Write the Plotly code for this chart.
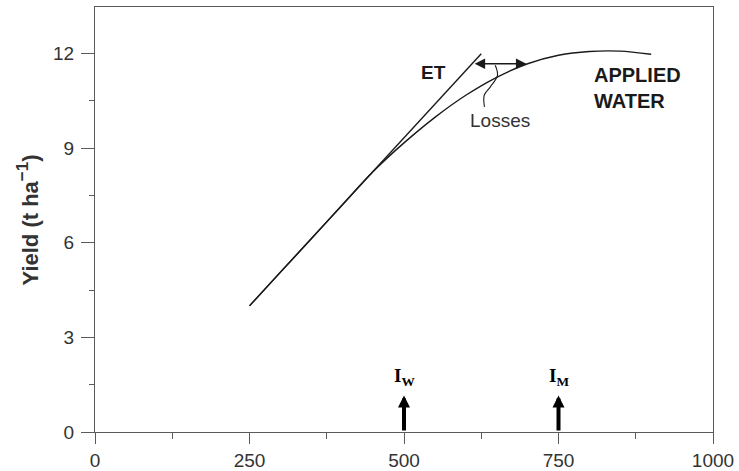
import plotly.graph_objects as go

# ---- data ----
et_x = [250, 625]
et_y = [4.0, 12.0]

applied_x = [250, 300, 350, 400, 450, 500, 550, 600, 650, 700, 750, 800, 850, 900]
applied_y = [4.0, 5.07, 6.13, 7.2, 8.26, 9.17, 9.98, 10.68, 11.25, 11.68, 11.95, 12.07, 12.08, 11.98]

losses_x = [612, 698]          # double arrow between ET and applied water
losses_level = 11.68
leader_x = [647.6, 651.3, 639.5, 629.8, 630.2]
leader_y = [11.63, 11.31, 10.94, 10.68, 10.31]

marker_x = [500, 750]          # I_W and I_M
marker_labels = ["I<sub>W</sub>", "I<sub>M</sub>"]
marker_tip = 1.16

x_ticks = [0, 250, 500, 750, 1000]
y_ticks = [0, 3, 6, 9, 12]

# ---- figure ----
LINE = "#1a1a1a"
AX = "#5a5a5a"
FONT = "Liberation Sans, Arial, sans-serif"

fig = go.Figure()
fig.add_trace(go.Scatter(x=et_x, y=et_y, mode="lines",
                         line=dict(color=LINE, width=1.4), hoverinfo="skip"))
fig.add_trace(go.Scatter(x=applied_x, y=applied_y, mode="lines",
                         line=dict(color=LINE, width=1.4, shape="spline", smoothing=0.8),
                         hoverinfo="skip"))
fig.add_trace(go.Scatter(x=leader_x, y=leader_y, mode="lines",
                         line=dict(color=LINE, width=1.1, shape="spline", smoothing=1.0),
                         hoverinfo="skip"))

annotations = []
# Losses double arrow
annotations.append(dict(x=losses_x[1], y=losses_level, ax=losses_x[0], ay=losses_level,
                        xref="x", yref="y", axref="x", ayref="y", text="",
                        showarrow=True, arrowside="end+start", arrowhead=2, startarrowhead=2,
                        arrowwidth=1.3, arrowsize=1.6, startarrowsize=1.6,
                        arrowcolor=LINE, standoff=0, startstandoff=0))
# I_W, I_M arrows and labels
for mx, lab in zip(marker_x, marker_labels):
    annotations.append(dict(x=mx, y=marker_tip, ax=mx, ay=0, xref="x", yref="y",
                            axref="x", ayref="y", text="", showarrow=True,
                            arrowhead=2, arrowwidth=4, arrowsize=0.6,
                            arrowcolor="black", standoff=0))
    annotations.append(dict(x=mx, y=1.3, xref="x", yref="y", text="<b>" + lab + "</b>",
                            showarrow=False, xanchor="center", yanchor="bottom",
                            font=dict(family="Liberation Serif, Times New Roman, serif",
                                      size=19, color="black")))
# text labels
annotations.append(dict(x=548, y=11.41, xref="x", yref="y", text="<b>ET</b>",
                        showarrow=False, font=dict(size=19, color="#1a1a1a")))
annotations.append(dict(x=805, y=10.9, xref="x", yref="y", text="<b>APPLIED<br>WATER</b>",
                        showarrow=False, xanchor="left", align="left",
                        font=dict(size=20, color="#1a1a1a")))
annotations.append(dict(x=655.6, y=9.89, xref="x", yref="y", text="Losses",
                        showarrow=False, font=dict(size=19, color="#333")))
# y-axis title
annotations.append(dict(x=-0.1085, y=0.5, xref="paper", yref="paper",
                        text="<b>Yield (t ha<sup><span style='font-size:17px'>−1</span></sup>)</b>",
                        textangle=-90,
                        showarrow=False, xanchor="center", yanchor="middle",
                        font=dict(size=22, color="#333")))

fig.update_layout(
    template="none",
    width=739, height=471,
    margin=dict(l=95, r=26, t=7, b=39, pad=0),
    plot_bgcolor="white", paper_bgcolor="white",
    showlegend=False,
    font=dict(family=FONT, size=19, color="#333"),
    annotations=annotations,
)
fig.update_xaxes(range=[0, 1000], tickmode="array", tickvals=x_ticks,
                 ticks="outside", ticklen=11, tickwidth=1.3, tickcolor=AX,
                 showline=True, linecolor=AX, linewidth=1.3, mirror=True,
                 showgrid=False, zeroline=False, automargin=False,
                 ticklabelstandoff=0,
                 tickfont=dict(size=19, color="#333"),
                 minor=dict(dtick=125, tick0=0, ticks="outside", ticklen=6,
                            tickwidth=1.3, tickcolor=AX, showgrid=False))
fig.update_yaxes(range=[0, 13.48], tickmode="array", tickvals=y_ticks,
                 ticks="outside", ticklen=13, tickwidth=1.3, tickcolor=AX,
                 showline=True, linecolor=AX, linewidth=1.3, mirror=True,
                 showgrid=False, zeroline=False, automargin=False,
                 ticklabelstandoff=3,
                 tickfont=dict(size=19, color="#333"),
                 minor=dict(dtick=1.5, tick0=0, ticks="outside", ticklen=5,
                            tickwidth=1.3, tickcolor=AX, showgrid=False))

fig.write_html("out.html", config={"displayModeBar": False},
               post_script="document.body.style.margin='0px';document.body.style.overflow='hidden';")
